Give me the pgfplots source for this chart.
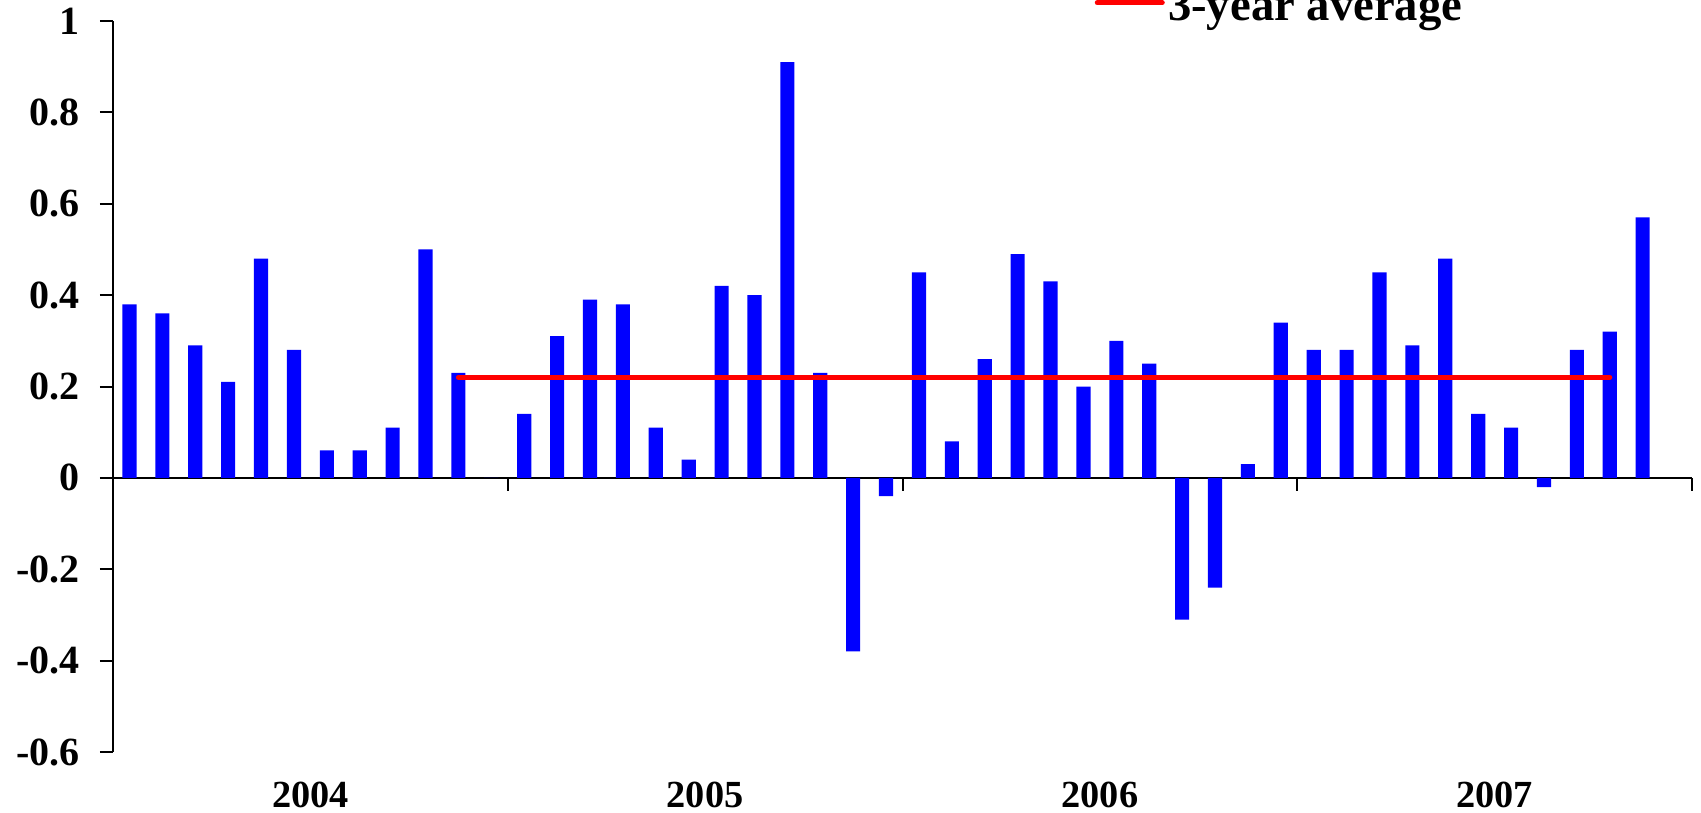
\documentclass[border=0pt]{standalone}
\usepackage{fontspec}
\setmainfont{Liberation Serif}
\usepackage{pgfplots}
\pgfplotsset{compat=1.18}

% monthly values, Jan 2004 - Nov 2007 (bar i centred at i+0.5)
\pgfplotstableread{
x     y
0.5   0.38
1.5   0.36
2.5   0.29
3.5   0.21
4.5   0.48
5.5   0.28
6.5   0.06
7.5   0.06
8.5   0.11
9.5   0.50
10.5  0.23
11.5  0.00
12.5  0.14
13.5  0.31
14.5  0.39
15.5  0.38
16.5  0.11
17.5  0.04
18.5  0.42
19.5  0.40
20.5  0.91
21.5  0.23
22.5  -0.38
23.5  -0.04
24.5  0.45
25.5  0.08
26.5  0.26
27.5  0.49
28.5  0.43
29.5  0.20
30.5  0.30
31.5  0.25
32.5  -0.31
33.5  -0.24
34.5  0.03
35.5  0.34
36.5  0.28
37.5  0.28
38.5  0.45
39.5  0.29
40.5  0.48
41.5  0.14
42.5  0.11
43.5  -0.02
44.5  0.28
45.5  0.32
46.5  0.57
}\monthly

\begin{document}
\begin{tikzpicture}
\begin{axis}[
    at={(0,0)}, anchor=south west,
    scale only axis,
    width=473.7pt, height=219.3pt,
    xmin=0, xmax=48,
    ymin=-0.6, ymax=1,
    axis x line*=middle,
    axis y line*=left,
    axis line style={black, line width=0.6pt},
    every tick/.style={black, line width=0.6pt},
    tick align=outside,
    major tick length=3.9pt,
    xtick={0,12,24,36,48},
    xticklabels={},
    extra x ticks={6,18,30,42},
    extra x tick labels={2004,2005,2006,2007},
    extra x tick style={major tick length=0pt,
        xticklabel style={anchor=center, yshift=-95.25pt}},
    ytick={-0.6,-0.4,-0.2,0,0.2,0.4,0.6,0.8,1},
    /pgf/number format/assume math mode=true,
    yticklabel style={font=\fontsize{12}{14}\selectfont\bfseries, inner xsep=6pt},
    xticklabel style={font=\fontsize{11.5}{13}\selectfont\bfseries},
    legend style={draw=none, fill=none,
        font=\fontsize{14}{16}\selectfont\bfseries,
        at={(axis description cs:0.615,1.018)}, anchor=west,
        nodes={inner xsep=1pt, inner ysep=0pt}},
    legend image code/.code={\draw[red, line width=1.5pt, line cap=round] (0pt,1.5pt) -- (19.5pt,1.5pt);},
    legend cell align=left,
    clip=false,
]
\addplot[ybar, bar width=0.43, bar shift=0pt, fill=blue, draw=none, forget plot]
    table[x=x, y=y] {\monthly};
\addplot[red, line width=1.5pt, line cap=round] coordinates {(10.5,0.22) (45.5,0.22)};
\addlegendentry{3-year average}
\end{axis}
\pgfresetboundingbox
\path (-33.9pt,-18pt) rectangle (476.4pt,225.6pt);
\end{tikzpicture}
\end{document}
